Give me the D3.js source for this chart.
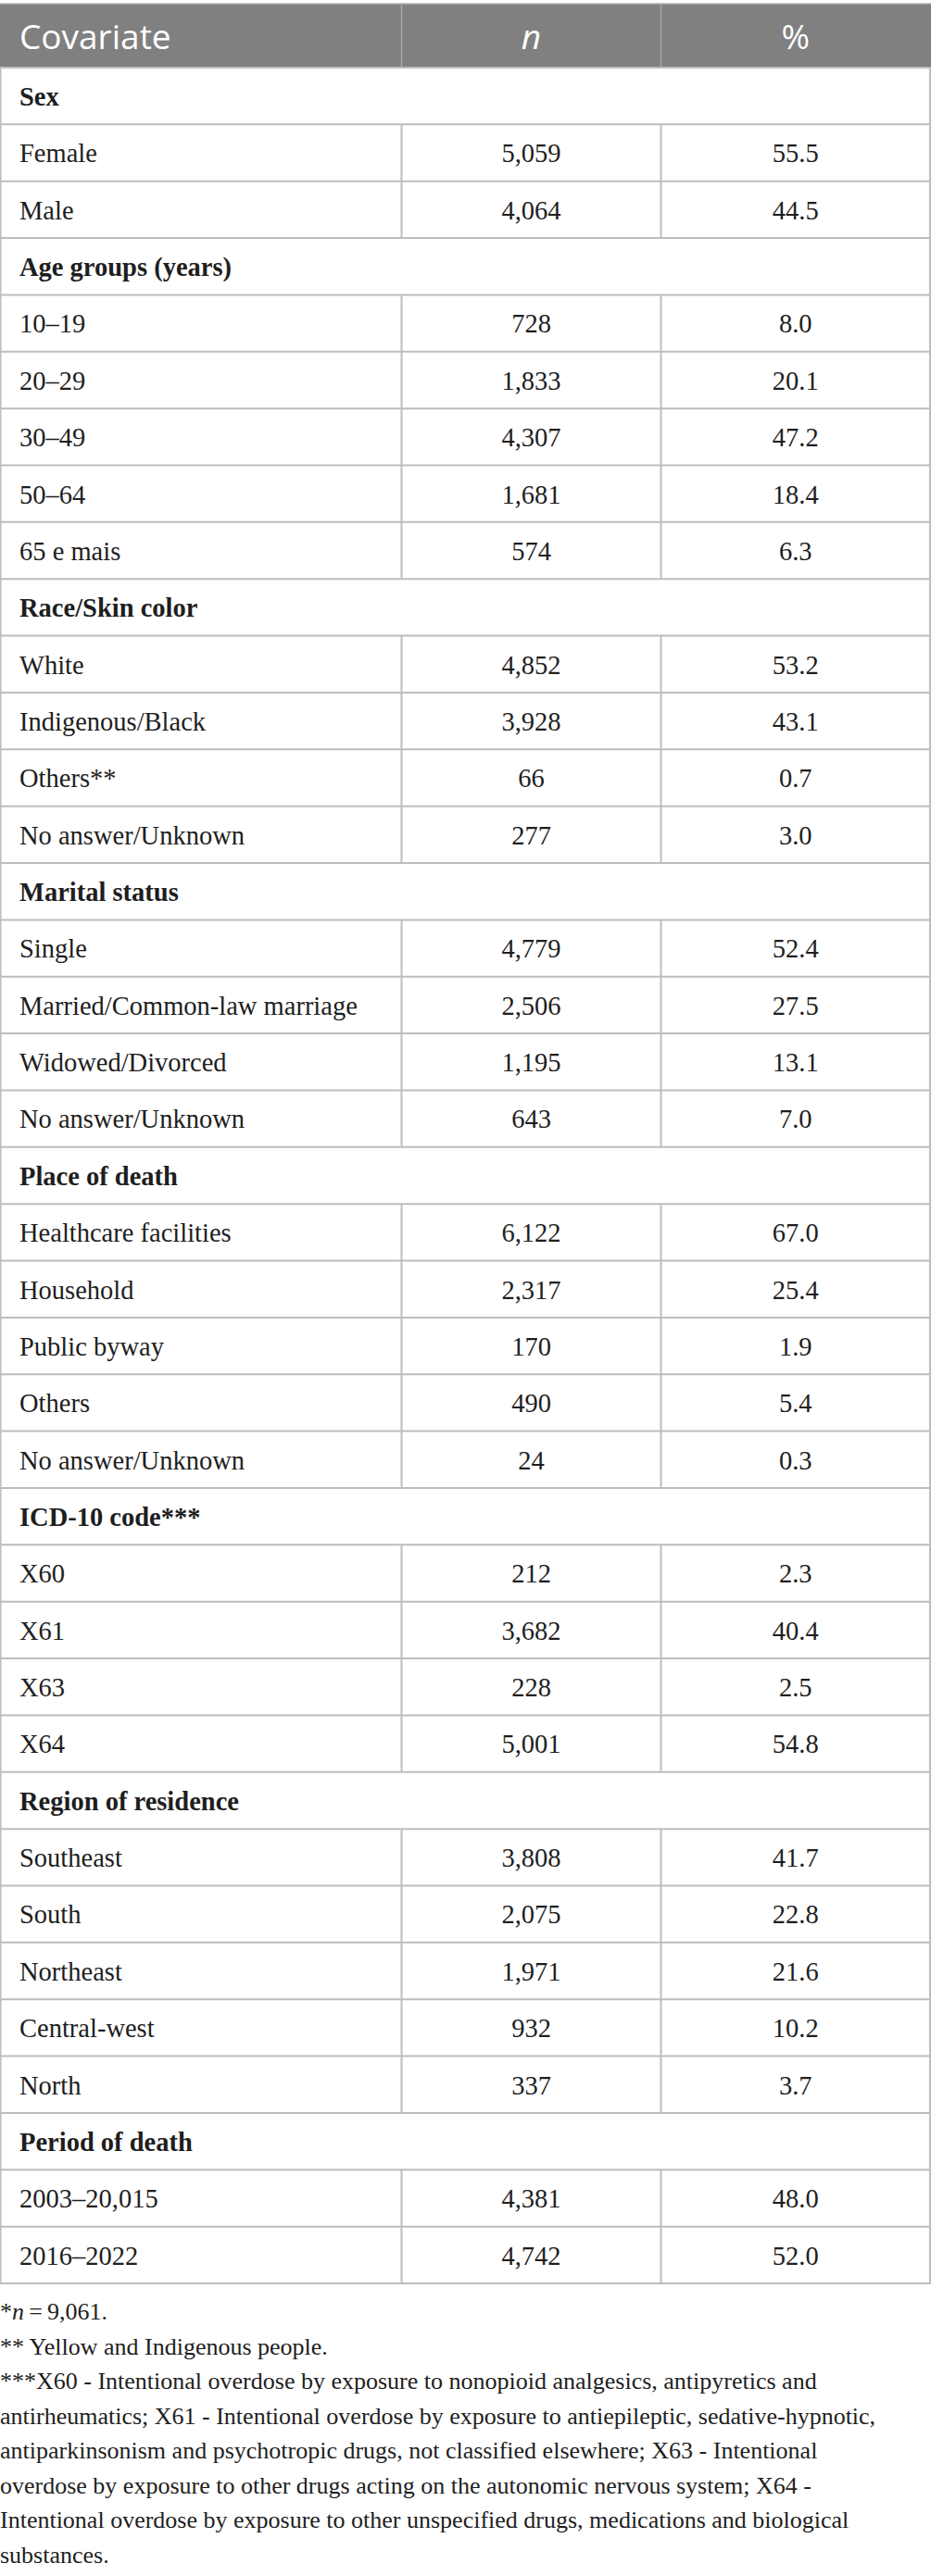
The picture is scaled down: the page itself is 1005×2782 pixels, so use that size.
<!DOCTYPE html>
<html>
<head>
<meta charset="utf-8">
<script src="https://cdn.jsdelivr.net/npm/d3@7"></script>
<style>
  body { margin: 0; background: #fff; }
</style>
</head>
<body>
<div id="chart"></div>
<script>
// column headers
var headers = ["Covariate", "n", "%"];

// sections: title, labels, counts, percentages
var sectionTitles = ["Sex", "Age groups (years)", "Race/Skin color", "Marital status",
                     "Place of death", "ICD-10 code***", "Region of residence", "Period of death"];

var sexLabels = ["Female", "Male"];
var sexN = [5059, 4064];
var sexPct = [55.5, 44.5];

var ageLabels = ["10\u201319", "20\u201329", "30\u201349", "50\u201364", "65 e mais"];
var ageN = [728, 1833, 4307, 1681, 574];
var agePct = [8.0, 20.1, 47.2, 18.4, 6.3];

var raceLabels = ["White", "Indigenous/Black", "Others**", "No answer/Unknown"];
var raceN = [4852, 3928, 66, 277];
var racePct = [53.2, 43.1, 0.7, 3.0];

var maritalLabels = ["Single", "Married/Common-law marriage", "Widowed/Divorced", "No answer/Unknown"];
var maritalN = [4779, 2506, 1195, 643];
var maritalPct = [52.4, 27.5, 13.1, 7.0];

var placeLabels = ["Healthcare facilities", "Household", "Public byway", "Others", "No answer/Unknown"];
var placeN = [6122, 2317, 170, 490, 24];
var placePct = [67.0, 25.4, 1.9, 5.4, 0.3];

var icdLabels = ["X60", "X61", "X63", "X64"];
var icdN = [212, 3682, 228, 5001];
var icdPct = [2.3, 40.4, 2.5, 54.8];

var regionLabels = ["Southeast", "South", "Northeast", "Central-west", "North"];
var regionN = [3808, 2075, 1971, 932, 337];
var regionPct = [41.7, 22.8, 21.6, 10.2, 3.7];

var periodLabels = ["2003\u201320,015", "2016\u20132022"];
var periodN = [4381, 4742];
var periodPct = [48.0, 52.0];

var footnotes = [
  "** Yellow and Indigenous people.",
  "***X60 - Intentional overdose by exposure to nonopioid analgesics, antipyretics and",
  "antirheumatics; X61 - Intentional overdose by exposure to antiepileptic, sedative-hypnotic,",
  "antiparkinsonism and psychotropic drugs, not classified elsewhere; X63 - Intentional",
  "overdose by exposure to other drugs acting on the autonomic nervous system; X64 -",
  "Intentional overdose by exposure to other unspecified drugs, medications and biological",
  "substances."
];

var sectionData = [
  [sexLabels, sexN, sexPct],
  [ageLabels, ageN, agePct],
  [raceLabels, raceN, racePct],
  [maritalLabels, maritalN, maritalPct],
  [placeLabels, placeN, placePct],
  [icdLabels, icdN, icdPct],
  [regionLabels, regionN, regionPct],
  [periodLabels, periodN, periodPct]
];

// flatten into rows
var rows = [];
sectionTitles.forEach(function(t, i) {
  rows.push({type: "section", label: t});
  var s = sectionData[i];
  s[0].forEach(function(l, j) {
    rows.push({type: "data", label: l, n: s[1][j], pct: s[2][j]});
  });
});

var width = 1005, height = 2782;
var table_top = 4, header_h = 69;
var line_color = "#bdbdbd";
var text_color = "#1e1e1e";
var serif = "'Liberation Serif', 'DejaVu Serif', serif";
var body_size = "28.5px";
var fmtN = d3.format(",");
var fmtPct = d3.format(".1f");

var svg = d3.select("#chart")
            .append("svg")
            .attr("width", width)
            .attr("height", height);

var x = d3.scaleOrdinal().domain([0, 1, 2, 3]).range([0.5, 433.5, 713.5, 1004]);
var xmid = function(c) { return (x(c) + x(c + 1)) / 2; };

var y = d3.scaleBand()
          .domain(d3.range(rows.length))
          .range([table_top + header_h, 2466]);

// header band
svg.append("rect")
   .attr("x", 0)
   .attr("y", table_top)
   .attr("width", width)
   .attr("height", header_h)
   .attr("fill", "#808080");

svg.append("line")
   .attr("x1", 0).attr("x2", width)
   .attr("y1", table_top).attr("y2", table_top)
   .style("stroke", "#b4b4b4").style("stroke-width", 1.5);

svg.selectAll("header_div")
   .data([1, 2])
   .enter()
   .append("line")
   .attr("x1", function(d) { return x(d); })
   .attr("x2", function(d) { return x(d); })
   .attr("y1", table_top)
   .attr("y2", table_top + header_h)
   .style("stroke", "#a6a6a6")
   .style("stroke-width", 1.5);

svg.selectAll("header_text")
   .data(headers)
   .enter()
   .append("text")
   .attr("x", function(d, i) { return i == 0 ? 21 : xmid(i); })
   .attr("y", table_top + 49)
   .attr("text-anchor", function(d, i) { return i == 0 ? "start" : "middle"; })
   .style("fill", "#ffffff")
   .style("font-family", "'Open Sans', sans-serif")
   .style("font-size", "37px")
   .style("font-style", function(d, i) { return i == 1 ? "italic" : "normal"; })
   .text(function(d) { return d; });

// horizontal row lines
svg.selectAll("row_line")
   .data(d3.range(rows.length + 1))
   .enter()
   .append("line")
   .attr("x1", 0).attr("x2", width)
   .attr("y1", function(d) { return d == rows.length ? y.range()[1] : y(d); })
   .attr("y2", function(d) { return d == rows.length ? y.range()[1] : y(d); })
   .style("stroke", line_color)
   .style("stroke-width", 2);

// outer verticals
svg.selectAll("outer_line")
   .data([0, 3])
   .enter()
   .append("line")
   .attr("x1", function(d) { return x(d); })
   .attr("x2", function(d) { return x(d); })
   .attr("y1", y.range()[0])
   .attr("y2", y.range()[1])
   .style("stroke", line_color)
   .style("stroke-width", 2);

// inner verticals only on data rows
var dataRows = rows.map(function(r, i) { return {r: r, i: i}; })
                   .filter(function(d) { return d.r.type == "data"; });

[1, 2].forEach(function(c) {
  svg.selectAll("div_" + c)
     .data(dataRows)
     .enter()
     .append("line")
     .attr("x1", x(c)).attr("x2", x(c))
     .attr("y1", function(d) { return y(d.i); })
     .attr("y2", function(d) { return y(d.i) + y.bandwidth(); })
     .style("stroke", line_color)
     .style("stroke-width", 2);
});

// row labels
svg.selectAll("row_label")
   .data(rows)
   .enter()
   .append("text")
   .attr("x", 21)
   .attr("y", function(d, i) { return y(i) + 41; })
   .style("fill", text_color)
   .style("font-family", serif)
   .style("font-size", body_size)
   .style("font-weight", function(d) { return d.type == "section" ? "bold" : "normal"; })
   .text(function(d) { return d.label; });

// n values
svg.selectAll("n_text")
   .data(dataRows)
   .enter()
   .append("text")
   .attr("x", xmid(1))
   .attr("y", function(d) { return y(d.i) + 41; })
   .attr("text-anchor", "middle")
   .style("fill", text_color)
   .style("font-family", serif)
   .style("font-size", body_size)
   .text(function(d) { return fmtN(d.r.n); });

// percentages
svg.selectAll("pct_text")
   .data(dataRows)
   .enter()
   .append("text")
   .attr("x", xmid(2))
   .attr("y", function(d) { return y(d.i) + 41; })
   .attr("text-anchor", "middle")
   .style("fill", text_color)
   .style("font-family", serif)
   .style("font-size", body_size)
   .text(function(d) { return fmtPct(d.r.pct); });

// footnotes
var note_top = 2505, note_step = 37.5;
var note_size = 26;

var notes = svg.append("g").attr("class", "notes")
   .style("fill", text_color)
   .style("font-family", serif)
   .style("font-size", note_size + "px");

var first = notes.append("text")
   .attr("x", 0)
   .attr("y", note_top);
first.append("tspan").text("*");
first.append("tspan").style("font-style", "italic").text("n");
first.append("tspan").text("\u2009=\u20099,061.");

notes.selectAll("note")
   .data(footnotes)
   .enter()
   .append("text")
   .attr("x", 0)
   .attr("y", function(d, i) { return note_top + (i + 1) * note_step; })
   .text(function(d) { return d; });

// narrow the footnote block horizontally so the widest line fits like the original
var widest = d3.max(notes.selectAll("text").nodes(), function(n) { return n.getComputedTextLength(); });
if (widest > 977) {
  notes.attr("transform", "scale(" + (977 / widest) + ",1)");
}
</script>
</body>
</html>
